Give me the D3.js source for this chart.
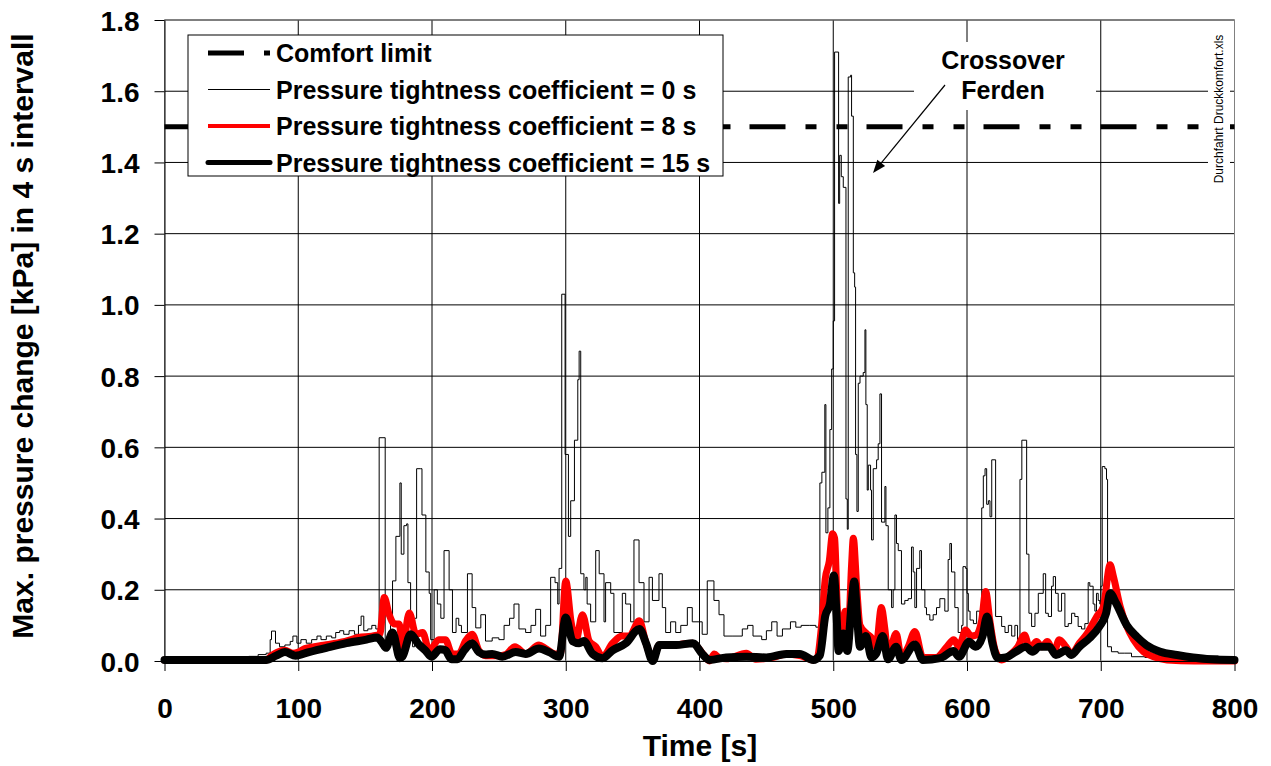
<!DOCTYPE html>
<html>
<head>
<meta charset="utf-8">
<title>Max. pressure change</title>
<script src="https://d3js.org/d3.v7.min.js"></script>
<style>
  body { margin: 0; background: #fff; }
  text { font-family: "Liberation Sans", Arial, sans-serif; }
</style>
</head>
<body>
<div id="chart"></div>
<script>
var xTicks = [0, 100, 200, 300, 400, 500, 600, 700, 800];
var yTicks = [0, 0.2, 0.4, 0.6, 0.8, 1.0, 1.2, 1.4, 1.6, 1.8];
var comfortLimit = 1.5;
var legendLabels = ["Comfort limit", "Pressure tightness coefficient = 0 s",
  "Pressure tightness coefficient = 8 s", "Pressure tightness coefficient = 15 s"];

// pressure tightness coefficient = 0 s  [time s, kPa]
var coeff0 = [
  [0,0.005],[20,0.006],[40,0.004],[55,0.008],[63,0.013],[70,0.018],[76,0.022],[79,0.06],[80,0.084],
  [83,0.05],[86,0.04],[90,0.045],[94,0.055],[96,0.07],[99,0.05],[102,0.06],[106,0.05],[110,0.06],
  [114,0.07],[117,0.06],[121,0.07],[125,0.065],[128,0.08],[131,0.085],[134,0.075],[138,0.085],
  [142,0.075],[145,0.1],[147,0.126],[149,0.085],[152,0.09],[155,0.1],[158,0.09],[160.5,0.627],
  [165,0.04],[169,0.1],[170.5,0.225],[173,0.35],[176,0.5],[177,0.3],[179,0.38],[181,0.385],
  [182,0.22],[184,0.1],[185.5,0.04],[187,0.12],[188.5,0.54],[191.5,0.54],[192.5,0.41],[195.4,0.25],
  [197.9,0.19],[199,0.06],[201.6,0.2],[204,0.16],[206.6,0.12],[209,0.31],[212.8,0.2],[215.3,0.08],
  [218,0.12],[220,0.1],[222,0.08],[226.5,0.245],[230,0.15],[232.7,0.093],[236.5,0.13],[240,0.056],
  [245,0.065],[250,0.06],[253.9,0.1],[258,0.12],[261.3,0.16],[265,0.09],[270,0.08],[274,0.1],
  [277.5,0.145],[281.2,0.07],[285,0.1],[288.7,0.235],[292,0.22],[294,0.16],[295,0.26],[297,1.03],
  [299.5,0.58],[302,0.35],[303.7,0.45],[306.5,0.62],[309,0.79],[310,0.87],[311.2,0.245],[313.6,0.2],
  [315,0.235],[316,0.16],[318.6,0.11],[322.4,0.31],[325,0.245],[328.6,0.11],[329.8,0.22],
  [333.6,0.19],[336,0.08],[342.3,0.19],[344.8,0.16],[348.5,0.11],[351,0.34],[354.8,0.22],
  [358.5,0.11],[362.3,0.235],[364.8,0.17],[369.7,0.245],[372.2,0.15],[374.7,0.08],[378.4,0.11],
  [382.2,0.08],[386,0.1],[390.9,0.15],[394.6,0.11],[399.6,0.11],[402,0.075],[405.8,0.225],
  [410.8,0.17],[414.6,0.13],[418.3,0.07],[425,0.07],[432,0.09],[436,0.1],[440,0.07],[446.5,0.06],
  [450,0.085],[454,0.11],[458,0.07],[462,0.09],[468,0.11],[472,0.095],[476,0.1],[482,0.1],
  [487,0.095],[490,0.5],[491.5,0.53],[493.7,0.72],[494.5,0.36],[496,0.43],[497.5,0.65],[498.8,0.82],
  [500,0.955],[501,1.71],[504,1.285],[504.8,1.42],[506,1.36],[507.5,1.33],[509.5,0.455],[510.5,0.37],
  [511.2,1.64],[513,1.645],[513.7,1.53],[515,1.09],[516,1.05],[516.7,0.58],[517.7,0.42],[518.7,0.78],
  [520,0.8],[522.4,0.81],[523.7,0.93],[524.4,0.72],[525.4,0.48],[526.2,0.55],[527.9,0.48],
  [528.6,0.34],[529.9,0.54],[532.4,0.565],[533.6,0.61],[534.9,0.75],[536.1,0.39],[538.6,0.49],
  [539.4,0.38],[541.1,0.2],[543.6,0.15],[544.8,0.2],[546.1,0.41],[547.3,0.33],[548.6,0.31],
  [551,0.16],[553.5,0.17],[556,0.175],[558.5,0.32],[559.8,0.25],[561,0.15],[562.3,0.26],
  [564.7,0.31],[566,0.2],[568.5,0.15],[569.7,0.13],[572.2,0.115],[574.7,0.13],[577.2,0.15],
  [579.7,0.175],[583.4,0.14],[585.9,0.285],[587.2,0.33],[588.4,0.25],[590.9,0.15],[593.4,0.08],
  [596,0.1],[597,0.265],[599,0.26],[600,0.19],[601,0.14],[602.3,0.115],[604.8,0.105],[607.2,0.14],
  [609.7,0.1],[611,0.43],[612.2,0.52],[613.5,0.54],[614.7,0.44],[616,0.45],[617.2,0.405],
  [618.5,0.565],[621.4,0.125],[625.9,0.097],[628.4,0.08],[630.9,0.1],[633.4,0.07],[635.8,0.1],
  [637.8,0.06],[639.6,0.51],[641,0.62],[644.6,0.3],[646.3,0.134],[648.3,0.097],[650.8,0.134],
  [653.3,0.19],[657,0.245],[658.8,0.134],[660.8,0.125],[663.2,0.21],[664.5,0.237],[666.2,0.19],
  [668.2,0.14],[670.7,0.19],[673.2,0.097],[675.7,0.105],[678.2,0.134],[680.6,0.125],[683.1,0.097],
  [685.6,0.09],[688.1,0.105],[690.6,0.22],[691.8,0.21],[694.3,0.16],[695.6,0.14],[696.8,0.19],
  [698.1,0.17],[699.3,0.16],[700.1,0.21],[701.1,0.546],[703.1,0.54],[704.3,0.51],[705.1,0.04],
  [708,0.026],[713,0.022],[718,0.022],[723,0.012],[733,0.01],[743,0.005],[753,0.012],[768,0.008],
  [778,0.014],[788,0.008],[800,0.014]
];

// pressure tightness coefficient = 8 s
var coeff8 = [
  [0,0.003],[40,0.003],[76,0.003],[80,0.015],[84,0.024],[90,0.03],[96,0.022],[100,0.025],[105,0.035],
  [112,0.04],[120,0.045],[128,0.05],[135,0.055],[145,0.066],[155,0.07],[161,0.075],[164.3,0.178],
  [168,0.13],[172,0.104],[175.5,0.104],[178,0.04],[183,0.135],[188,0.075],[193,0.08],[198,0.028],
  [205,0.06],[210,0.06],[215,0.02],[220,0.02],[225,0.056],[230,0.075],[235,0.03],[240,0.015],
  [250,0.015],[255,0.018],[262,0.04],[270,0.02],[280,0.045],[285,0.035],[292,0.02],[296,0.02],
  [300,0.225],[304,0.11],[307.5,0.056],[312.5,0.13],[317.5,0.056],[322.5,0.04],[327.5,0.012],
  [335,0.05],[342,0.07],[347.5,0.07],[355,0.113],[360,0.05],[365,0.006],[370,0.045],[380,0.045],
  [395,0.05],[402.5,0.02],[407.5,0.0],[411,0.02],[415,0.008],[420,0.006],[435,0.022],[442,0.005],
  [455,0.01],[465,0.02],[475,0.015],[485,0.003],[488,0.01],[491,0.09],[494,0.23],[497,0.28],
  [499.5,0.357],[501,0.345],[503,0.15],[505,0.05],[509,0.14],[511,0.065],[513.7,0.27],[515,0.345],
  [517.5,0.21],[520,0.1],[525,0.077],[528.6,0.065],[532,0.04],[536,0.15],[538.6,0.09],[541,0.016],
  [547,0.077],[551,0.01],[556,0.04],[561,0.083],[567,0.01],[577,0.01],[585,0.04],[590,0.06],
  [594,0.04],[599,0.087],[603,0.07],[607,0.073],[611,0.115],[614,0.195],[617,0.115],[621,0.03],
  [626,0.003],[633,0.02],[638,0.04],[643,0.073],[647,0.035],[652,0.055],[656,0.04],[660,0.055],
  [665,0.025],[669,0.06],[674,0.04],[678,0.02],[684,0.05],[690,0.078],[697,0.125],[702,0.153],
  [707,0.27],[709.5,0.237],[714.5,0.153],[719.5,0.097],[724.5,0.06],[732,0.026],[739.5,0.012],
  [749.5,0.003],[770,0.0],[800,0.0]
];

// pressure tightness coefficient = 15 s
var coeff15 = [
  [0,0.003],[76,0.003],[83.5,0.015],[90,0.025],[98,0.015],[108,0.025],[121,0.037],[136,0.05],
  [151,0.06],[159,0.066],[163,0.05],[165.5,0.037],[170.5,0.08],[176,0.008],[178,0.013],[184,0.075],
  [190,0.047],[195,0.03],[199.5,0.012],[206,0.033],[210,0.03],[214.5,0.005],[219,0.005],[224,0.03],
  [230,0.05],[235,0.025],[240,0.018],[245,0.02],[252.5,0.012],[262.5,0.025],[270,0.02],[280,0.035],
  [287.5,0.025],[295,0.012],[300,0.122],[305,0.056],[310,0.05],[313.5,0.056],[320,0.02],
  [327.5,0.008],[335,0.03],[345,0.05],[355,0.09],[360,0.05],[365,0.0],[370,0.045],[382.5,0.045],
  [395,0.05],[402.5,0.018],[407.5,0.003],[420,0.01],[435,0.012],[450,0.01],[465,0.02],[475,0.02],
  [485,0.003],[490,0.016],[494,0.126],[497.5,0.16],[500.5,0.24],[502.5,0.126],[504,0.028],
  [507.5,0.077],[510.5,0.028],[513.7,0.16],[515.7,0.223],[518,0.113],[520,0.04],[524.4,0.07],
  [528.6,0.01],[532,0.02],[537,0.07],[541,0.005],[547,0.04],[551,0.003],[561,0.046],[567,0.003],
  [580,0.008],[590,0.028],[594,0.012],[601.5,0.054],[606.5,0.04],[611.5,0.068],[615,0.125],
  [619,0.05],[623,0.008],[629,0.01],[636.5,0.026],[644,0.04],[649,0.026],[654,0.04],[661.5,0.04],
  [666.5,0.017],[674,0.03],[678,0.017],[684,0.04],[691.5,0.064],[699,0.097],[704,0.134],[707,0.19],
  [711.5,0.162],[719.5,0.1],[727,0.068],[734,0.045],[744.5,0.026],[757,0.017],[769,0.01],
  [782,0.005],[800,0.003]
];

var width = 1271, height = 766;
var plotLeft = 164.5, plotRight = 1234.5, plotTop = 20, plotBottom = 661;
var comfortDash = "36,20,11,20,11,19";

var svg = d3.select("#chart").append("svg")
  .attr("width", width).attr("height", height);

var x = d3.scaleLinear().domain([0, 800]).range([plotLeft, plotRight]);
var y = d3.scaleLinear().domain([0, 1.8]).range([plotBottom, plotTop]);

// grid
svg.append("g").selectAll("line").data(yTicks.slice(1)).enter().append("line")
  .attr("x1", plotLeft).attr("x2", plotRight)
  .attr("y1", function(d) { return y(d); }).attr("y2", function(d) { return y(d); })
  .attr("stroke", "#000").attr("stroke-width", 1);
svg.append("g").selectAll("line").data(xTicks.slice(1)).enter().append("line")
  .attr("y1", plotTop).attr("y2", plotBottom)
  .attr("x1", function(d) { return x(d); }).attr("x2", function(d) { return x(d); })
  .attr("stroke", "#000").attr("stroke-width", 1);

// white box behind the annotation text
svg.append("rect").attr("x", 914).attr("y", 42).attr("width", 182).attr("height", 68).attr("fill", "#fff");

svg.append("rect").attr("x", plotLeft).attr("y", plotTop)
  .attr("width", plotRight - plotLeft).attr("height", plotBottom - plotTop)
  .attr("fill", "none").attr("stroke", "#808080");

// comfort limit
svg.append("line")
  .attr("x1", x(0)).attr("x2", x(800))
  .attr("y1", y(comfortLimit)).attr("y2", y(comfortLimit))
  .attr("stroke", "#000").attr("stroke-width", 5)
  .attr("stroke-dasharray", comfortDash);

var stepLine = d3.line().x(function(d) { return x(d[0]); }).y(function(d) { return y(d[1]); })
  .curve(d3.curveStepAfter);
var smoothLine = d3.line().x(function(d) { return x(d[0]); }).y(function(d) { return y(d[1]); })
  .curve(d3.curveMonotoneX);

svg.append("path").datum(coeff0).attr("d", stepLine)
  .attr("fill", "none").attr("stroke", "#000").attr("stroke-width", 1);
svg.append("path").datum(coeff8).attr("d", smoothLine)
  .attr("fill", "none").attr("stroke", "#ff0000").attr("stroke-width", 7)
  .attr("stroke-linejoin", "round").attr("stroke-linecap", "round");
svg.append("path").datum(coeff15).attr("d", smoothLine)
  .attr("fill", "none").attr("stroke", "#000").attr("stroke-width", 8)
  .attr("stroke-linejoin", "round").attr("stroke-linecap", "round");

// axes
var yAxis = svg.append("g").attr("transform", "translate(" + plotLeft + ",0)")
  .call(d3.axisLeft(y).tickValues(yTicks).tickFormat(d3.format(".1f"))
    .tickSize(10).tickSizeOuter(0).tickPadding(15));
var xAxis = svg.append("g").attr("transform", "translate(0," + plotBottom + ")")
  .call(d3.axisBottom(x).tickValues(xTicks).tickFormat(d3.format("d"))
    .tickSize(10).tickSizeOuter(0).tickPadding(27));
[yAxis, xAxis].forEach(function(a) {
  a.selectAll("text").style("font-size", "28px").style("font-weight", "bold")
    .style("font-family", "'Liberation Sans', Arial, sans-serif").attr("fill", "#000");
  a.selectAll("line").attr("stroke", "#000");
  a.select(".domain").attr("stroke", "#000");
});
yAxis.selectAll("text").attr("dy", "0.36em");

svg.append("text").attr("x", 700).attr("y", 756).attr("text-anchor", "middle")
  .style("font-size", "30px").style("font-weight", "bold").text("Time [s]");
svg.append("text").attr("transform", "translate(33,336) rotate(-90)").attr("text-anchor", "middle")
  .style("font-size", "30px").style("font-weight", "bold")
  .text("Max. pressure change [kPa] in 4 s intervall");

// legend
var lg = svg.append("g");
lg.append("rect").attr("x", 188).attr("y", 35).attr("width", 535).attr("height", 141)
  .attr("fill", "#fff").attr("stroke", "#000").attr("stroke-width", 1);
var rowY = [53, 89.5, 126, 162.5];
var legendStyle = [
  {stroke: "#000", w: 5, dash: comfortDash},
  {stroke: "#000", w: 1, dash: null},
  {stroke: "#ff0000", w: 4, dash: null},
  {stroke: "#000", w: 5, dash: null}
];
legendLabels.forEach(function(lab, i) {
  var s = legendStyle[i];
  lg.append("line").attr("x1", 208).attr("x2", 270).attr("y1", rowY[i]).attr("y2", rowY[i])
    .attr("stroke", s.stroke).attr("stroke-width", s.w)
    .attr("stroke-dasharray", s.dash).attr("stroke-linecap", i == 3 ? "round" : "butt");
  lg.append("text").attr("x", 276).attr("y", rowY[i]).attr("dy", "0.36em")
    .style("font-size", "25px").style("font-weight", "bold").text(lab);
});

// annotation
svg.append("text").attr("x", 1003).attr("y", 69).attr("text-anchor", "middle")
  .style("font-size", "25px").style("font-weight", "bold").text("Crossover");
svg.append("text").attr("x", 1003).attr("y", 99).attr("text-anchor", "middle")
  .style("font-size", "25px").style("font-weight", "bold").text("Ferden");
var ax1 = 945, ay1 = 85, ax2 = 873, ay2 = 173;
var ang = Math.atan2(ay2 - ay1, ax2 - ax1);
svg.append("line").attr("x1", ax1).attr("y1", ay1)
  .attr("x2", ax2 - 8 * Math.cos(ang)).attr("y2", ay2 - 8 * Math.sin(ang))
  .attr("stroke", "#000").attr("stroke-width", 1.2);
var hl = 13, hw = 5;
svg.append("path").attr("fill", "#000").attr("d",
  "M" + ax2 + "," + ay2 +
  "L" + (ax2 - hl * Math.cos(ang) + hw * Math.sin(ang)) + "," + (ay2 - hl * Math.sin(ang) - hw * Math.cos(ang)) +
  "L" + (ax2 - hl * Math.cos(ang) - hw * Math.sin(ang)) + "," + (ay2 - hl * Math.sin(ang) + hw * Math.cos(ang)) + "Z");

// file name box on top of grid and comfort line
svg.append("rect").attr("x", 1208).attr("y", 24).attr("width", 22).attr("height", 166).attr("fill", "#fff");
svg.append("text").attr("transform", "translate(1223,109) rotate(-90)").attr("text-anchor", "middle")
  .style("font-size", "12px").text("Durchfahrt Druckkomfort.xls");
</script>
</body>
</html>
